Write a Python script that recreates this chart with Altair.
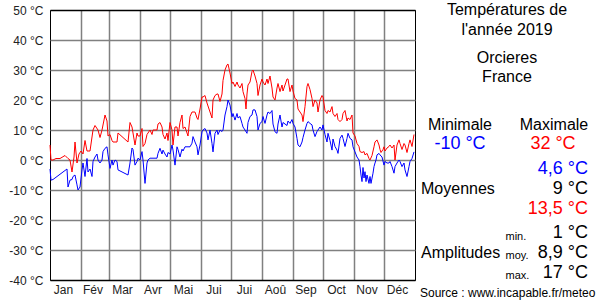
import altair as alt
import pandas as pd

# ---------------- data ----------------
month_names = ["Jan", "Fév", "Mar", "Avr", "Mai", "Jui", "Jui", "Aoû", "Sep", "Oct", "Nov", "Déc"]
month_lengths = [31, 28, 31, 30, 31, 30, 31, 31, 30, 31, 30, 31]
y_ticks = [-40, -30, -20, -10, 0, 10, 20, 30, 40, 50]

max_days = [0, 1, 3, 6, 10, 15, 18, 20, 22, 24, 25, 27, 29, 31, 33, 35, 37, 40, 43, 45,
            48, 50, 52, 55, 57, 58, 60, 62, 63, 65, 67, 68, 78, 80, 82, 85, 87, 88, 90, 92,
            93, 95, 97, 100, 102, 103, 107, 108, 110, 112, 113, 115, 117, 118, 120, 122, 123, 125, 127, 128,
            130, 132, 133, 135, 137, 138, 140, 142, 144, 145, 147, 148, 150, 152, 153, 155, 157, 158, 160, 162,
            163, 165, 167, 168, 170, 172, 173, 175, 177, 178, 180, 182, 183, 185, 187, 188, 190, 192, 193, 195,
            196, 197, 198, 200, 202, 203, 205, 207, 208, 210, 212, 213, 215, 217, 218, 220, 222, 223, 225, 227,
            228, 230, 232, 233, 235, 237, 238, 240, 242, 243, 245, 247, 248, 250, 252, 253, 255, 257, 258, 260,
            262, 263, 265, 267, 268, 270, 272, 273, 275, 277, 278, 280, 282, 283, 285, 287, 288, 290, 292, 293,
            295, 297, 298, 300, 302, 303, 305, 307, 309, 310, 312, 314, 315, 317, 319, 320, 322, 324, 325, 327,
            329, 330, 331, 333, 334, 335, 337, 339, 340, 342, 344, 345, 347, 349, 350, 352, 354, 355, 357, 359,
            360, 362, 364]
max_vals = [5, 0, 0, 0.5, 0.5, 1.5, 0.5, 0, -4, 1, 6, -1, 2, 3, 2, 6.5, 3, 3, 10, 11.5,
            10, 7.5, 10, 15, 13, 8, 8.5, 6.5, 6, 6, 6, 9, 6, 12.5, 11, 5, 9, 8, 8, 10.5,
            4.5, 5.5, 8.5, 10, 8.5, 10, 10, 12, 12.5, 11, 8.5, 7, 9, 6.5, 12.5, 10, 5, 11, 11, 8,
            12.5, 15, 10.5, 11, 9, 8, 14.5, 16, 16, 16, 14, 13.5, 17, 21, 21, 21.5, 19, 18, 16, 14,
            20, 21.5, 22, 22, 19.5, 22, 26.5, 30, 31.7, 32, 29, 25.5, 26, 24.5, 26, 25, 24, 25.5, 22.8, 20.5,
            17, 22, 25, 26, 29.5, 30, 28, 25.5, 21.5, 25, 27, 26, 25, 27, 25.5, 28, 24, 21, 20, 24,
            25.5, 22.8, 25, 23, 25, 27, 27, 22.8, 25, 23, 20.5, 20, 17, 16, 15, 12.8, 17.8, 24.5, 25.5, 23.5,
            20.5, 17.8, 20, 19, 16, 20, 21.5, 21, 16.5, 15.5, 16.5, 16, 17.8, 15.5, 14.5, 15.5, 13.5, 12.8, 13.5, 15.5,
            16.5, 13, 14, 13.5, 15, 9, 8, 5.5, 4.5, 2.8, 2.5, 2.8, 1.7, 2.2, 0.5, 0, 1.5, 4.4, 6, 6.7,
            5, 3.5, 2.5, 3.5, 4.4, 3, 4, 4.5, 5, 4, 5, 0, 5, 6.7, 5.5, 3.5, 5.5, 5, 2.5, 5.5,
            6.7, 4.5, 8.5]

min_days = [0, 1, 3, 17, 18, 20, 22, 23, 25, 27, 28, 30, 32, 33, 35, 37, 38, 40, 42, 43,
            45, 47, 48, 50, 52, 53, 55, 57, 58, 60, 62, 63, 65, 67, 68, 78, 80, 82, 83, 85,
            87, 88, 90, 92, 93, 95, 97, 98, 100, 107, 108, 110, 112, 113, 115, 117, 118, 120, 122, 123,
            125, 127, 128, 130, 132, 133, 135, 137, 140, 142, 143, 145, 147, 148, 150, 152, 153, 155, 157, 158,
            160, 162, 163, 165, 167, 168, 170, 172, 173, 175, 177, 178, 180, 182, 183, 185, 187, 188, 190, 192,
            193, 195, 197, 198, 200, 202, 203, 205, 207, 208, 210, 212, 213, 215, 217, 218, 220, 222, 223, 225,
            227, 228, 230, 232, 233, 235, 237, 238, 240, 242, 243, 245, 247, 248, 250, 252, 253, 255, 257, 258,
            260, 262, 263, 265, 267, 268, 270, 272, 273, 275, 277, 278, 280, 282, 283, 285, 287, 288, 290, 292,
            293, 295, 297, 298, 300, 302, 303, 305, 307, 309, 310, 311, 312, 313, 314, 315, 316, 317, 319, 320,
            321, 323, 324, 325, 326, 327, 329, 330, 332, 334, 335, 337, 339, 340, 342, 344, 345, 347, 349, 350,
            352, 354, 355, 357, 359, 360, 362, 364]
min_vals = [-3, -6.7, -6.5, -3, -9, -6.7, -6.5, -5.5, -5, -8.3, -10, -9, -3.3, -1, -5.5, 0.5, -4, -3, -5.5, -0.5,
            1, 2, 0, -1, 0, 2.8, 3.9, 4.4, 1.7, -2.8, 0, -1.7, 0, -0.5, -3.3, -5, -1, 4, 3.5, -1.7,
            -0.5, 0.6, 0, 2.8, 0, -7.8, -1, 0, 0.6, 0.6, 2.2, 3.9, 2, 3.3, 2, 1, 2.5, 2, 5, 3.3,
            -1.7, 4.4, 3.5, 1, 3.6, 3, 4.4, 4.4, 4.4, 5.6, 7.8, 6, 4.4, 1.7, 5, 9.4, 10, 10.5, 9, 6.7,
            10, 5.5, 2.7, 8.9, 10, 8.5, 10, 9.5, 10, 15, 17.8, 20, 18.3, 14.4, 15.5, 13.3, 15.5, 14, 14.5, 12.2,
            11, 10, 8.9, 12.5, 14.5, 15, 16.7, 16.7, 14.5, 10, 12.2, 12.8, 14.5, 12.2, 15, 16, 15.5, 16.5, 12, 9.4,
            8.9, 12, 15, 11, 12.5, 12, 11.5, 13, 12.2, 13.5, 12.2, 11, 7.2, 5, 4.4, 6, 7.5, 10, 12.2, 12.8,
            12.2, 11.7, 10, 7.8, 9.5, 10, 11, 10, 11.7, 8.5, 6, 8.9, 6.5, 3.3, 7, 4.5, 3.3, 2.2, 7.2, 8.3,
            7.2, 4.5, 7.2, 8.9, 7.2, 6.7, 4.4, 2.7, 1, 0, -2.2, -5, -7.2, -2.5, -6, -3.9, -7.2, -5, -7.8, -5.5,
            -7.8, -4.4, -2.2, -1, 0, 1.7, 2.2, 1.7, 1, -1.7, -0.5, -1, -1, -0.5, -2.2, -4.4, -2.2, -1, 0, -0.5,
            -2.2, -1, -3.3, -5.5, -2.2, -0.5, 0.5, 2.7]

title_lines = ["Températures de", "l'année 2019", "Orcieres", "France"]
stat_headers = ["Minimale", "Maximale"]
extreme_values = ["-10 °C", "32 °C"]
mean_label = "Moyennes"
mean_values = ["4,6 °C", "9 °C", "13,5 °C"]
amplitude_label = "Amplitudes"
amplitude_keys = ["min.", "moy.", "max."]
amplitude_values = ["1 °C", "8,9 °C", "17 °C"]
source_text = "Source : www.incapable.fr/meteo"

# ---------------- build tables ----------------
df_max = pd.DataFrame({"day": max_days, "t": max_vals})
df_min = pd.DataFrame({"day": min_days, "t": min_vals})

bounds = []
acc = 0
mids = []
for L in month_lengths:
    mids.append(acc + L / 2 - 2)
    acc += L
    bounds.append(acc)
bounds = bounds[:-1]
df_months = pd.DataFrame({"name": month_names, "mid": mids})

FONT = "Liberation Sans"
GRID = "#808080"
RED = "#ff0000"
BLUE = "#0000ff"

x_scale = alt.Scale(domain=[0, 365], nice=False, zero=False)
y_scale = alt.Scale(domain=[-40, 50], nice=False, zero=False)
x_axis = alt.Axis(values=bounds, grid=True, gridColor=GRID, gridWidth=1.5, labels=False,
                  ticks=False, domain=False, title=None)
y_axis = alt.Axis(values=y_ticks, grid=True, ticks=False, domain=False, title=None,
                  gridColor={"condition": {"test": "datum.value == 50 || datum.value == -40",
                                           "value": "black"}, "value": GRID},
                  gridWidth=1.5,
                  labelExpr="datum.value + ' °C'", labelFont=FONT, labelFontSize=12,
                  labelColor="#222222", labelPadding=7)

line_max = alt.Chart(df_max).mark_line(color=RED, strokeWidth=1).encode(
    x=alt.X("day:Q", scale=x_scale, axis=x_axis),
    y=alt.Y("t:Q", scale=y_scale, axis=y_axis),
)
line_min = alt.Chart(df_min).mark_line(color=BLUE, strokeWidth=1).encode(
    x=alt.X("day:Q", scale=x_scale, axis=x_axis),
    y=alt.Y("t:Q", scale=y_scale, axis=y_axis),
)
months = alt.Chart(df_months).mark_text(font=FONT, fontSize=12, color="#222222",
                                        baseline="middle", align="center").encode(
    x=alt.X("mid:Q", scale=x_scale, axis=x_axis),
    y=alt.value(280),
    text="name:N",
)


def txt(s, x, y, size, color="black", align="center"):
    return alt.Chart(pd.DataFrame({"label": [s]})).mark_text(
        font=FONT, fontSize=size, color=color, align=align, baseline="middle"
    ).encode(text="label:N", x=alt.value(x), y=alt.value(y))


panel = [
    txt(title_lines[0], 457, 0, 16),
    txt(title_lines[1], 457, 19.5, 16),
    txt(title_lines[2], 457, 47.5, 16),
    txt(title_lines[3], 457, 66.5, 16),
    txt(stat_headers[0], 410, 114.5, 16),
    txt(stat_headers[1], 504, 114.5, 16),
    txt(extreme_values[0], 410, 134, 18, BLUE),
    txt(extreme_values[1], 503, 134, 18, RED),
    txt(mean_values[0], 538, 159, 18, BLUE, "right"),
    txt(mean_values[1], 538, 179, 18, "black", "right"),
    txt(mean_values[2], 538, 199, 18, RED, "right"),
    txt(mean_label, 371, 179, 16, "black", "left"),
    txt(amplitude_values[0], 538, 222.5, 18, "black", "right"),
    txt(amplitude_values[1], 538, 243, 18, "black", "right"),
    txt(amplitude_values[2], 538, 263, 18, "black", "right"),
    txt(amplitude_label, 371, 243, 16, "black", "left"),
    txt(amplitude_keys[0], 455.5, 226.5, 11, "black", "left"),
    txt(amplitude_keys[1], 455.5, 246, 11, "black", "left"),
    txt(amplitude_keys[2], 455.5, 265.5, 11, "black", "left"),
    txt(source_text, 370, 283, 12, "black", "left"),
]

chart = alt.layer(line_max, line_min, months, *panel).properties(
    width=365,
    height=270,
    autosize=alt.AutoSizeParams(type="none"),
    padding={"left": 50, "top": 10, "right": 185, "bottom": 20},
    background="white",
).configure_view(stroke="black", strokeWidth=1)

chart.save("out.html", embed_options={"renderer": "svg", "actions": False})
